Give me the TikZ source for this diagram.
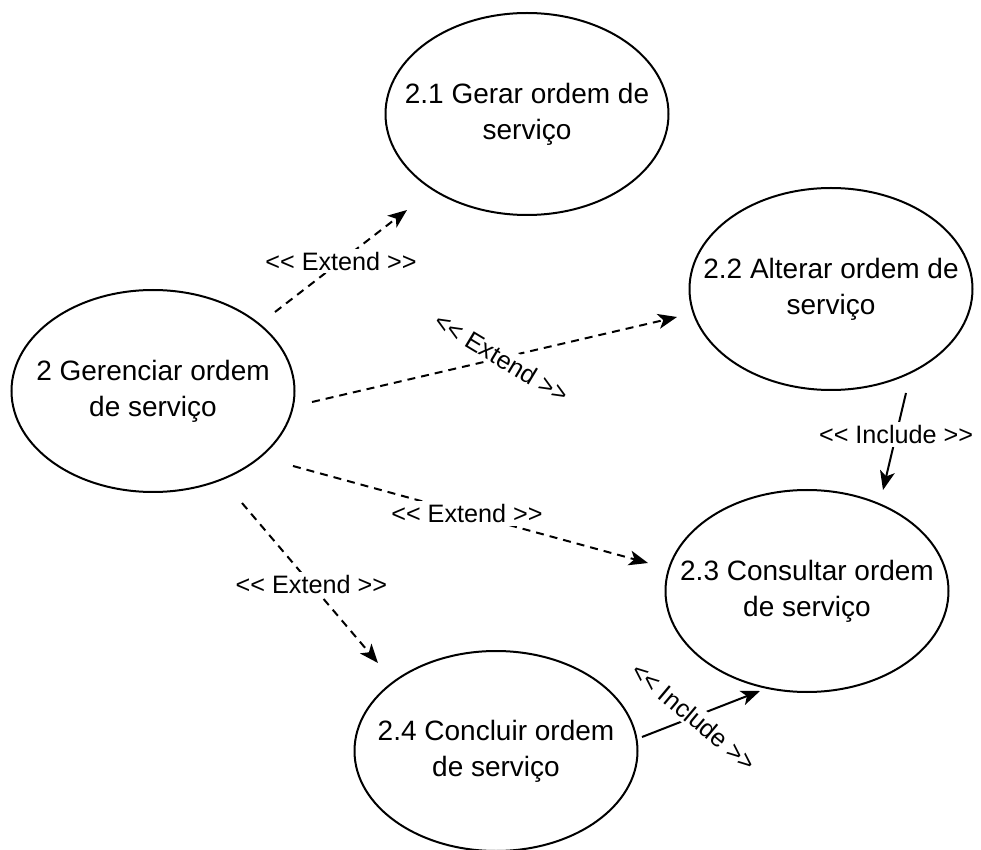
\documentclass[tikz,border=0pt]{standalone}
\usepackage{fontspec}
\setmainfont{Liberation Sans}
\usetikzlibrary{arrows.meta,shapes.geometric}
% stereotype brackets, kept apart so they are not turned into guillemets
\newcommand\stopen{<\kern0pt<}
\newcommand\stclose{>\kern0pt>}
\begin{document}
\begin{tikzpicture}[x=0.5pt,y=-0.5pt,
  usecase/.style={ellipse,draw,line width=1pt,minimum width=141.5pt,
    minimum height=101pt,inner sep=0pt},
  casetext/.style={align=center,inner sep=0pt,
    font=\fontsize{14pt}{18pt}\selectfont},
  tip/.style={-{Stealth[length=9.5pt,width=7.5pt,inset=2.5pt]}},
  ext/.style={draw,line width=1pt,dash pattern=on 4pt off 3pt,tip},
  inc/.style={draw,line width=1pt,tip},
  tag/.style={fill=white,inner sep=1.5pt,
    font=\fontsize{12.6pt}{15pt}\selectfont}]
\useasboundingbox (0,0) rectangle (981,850);

% use cases: fixed-size ellipses with their names set in the middle
\node[usecase,label={[casetext]center:2 Gerenciar ordem\\de serviço}] (g) at (153,391) {};
\node[usecase,label={[casetext]center:2.1 Gerar ordem de\\serviço}] (s21) at (527,114) {};
\node[usecase,label={[casetext]center:2.2 Alterar ordem de\\serviço}] (s22) at (831,289) {};
\node[usecase,label={[casetext]center:2.3 Consultar ordem\\de serviço}] (s23) at (807,591) {};
\node[usecase,minimum height=100pt,label={[casetext]center:2.4 Concluir ordem\\de serviço}] (s24) at (496,751) {};

% free ends of the relations
\coordinate (e1a) at (275,312); \coordinate (e1b) at (407,210);
\coordinate (e2a) at (312,402); \coordinate (e2b) at (677,317);
\coordinate (e3a) at (293,466); \coordinate (e3b) at (648,563);
\coordinate (e4a) at (242,503); \coordinate (e4b) at (378,663);
\coordinate (e5a) at (906,393); \coordinate (e5b) at (883,490);
\coordinate (e6a) at (642,737); \coordinate (e6b) at (760,691);

% extend relations
\draw[ext] (e1a) -- node[tag] {\stopen{} Extend \stclose} (e1b);
\draw[ext] (e2a) -- node[tag,pos=0.52,rotate=-31] {\stopen{} Extend \stclose} (e2b);
\draw[ext] (e3a) -- node[tag,pos=0.49] {\stopen{} Extend \stclose} (e3b);
\draw[ext] (e4a) -- node[tag,pos=0.51] {\stopen{} Extend \stclose} (e4b);

% include relations
\draw[inc] (e5a) -- node[tag,pos=0.43] {\stopen{} Include \stclose} (e5b);
\draw[inc] (e6a) -- node[tag,pos=0.44,rotate=-40] {\stopen{} Include \stclose} (e6b);
\end{tikzpicture}
\end{document}
